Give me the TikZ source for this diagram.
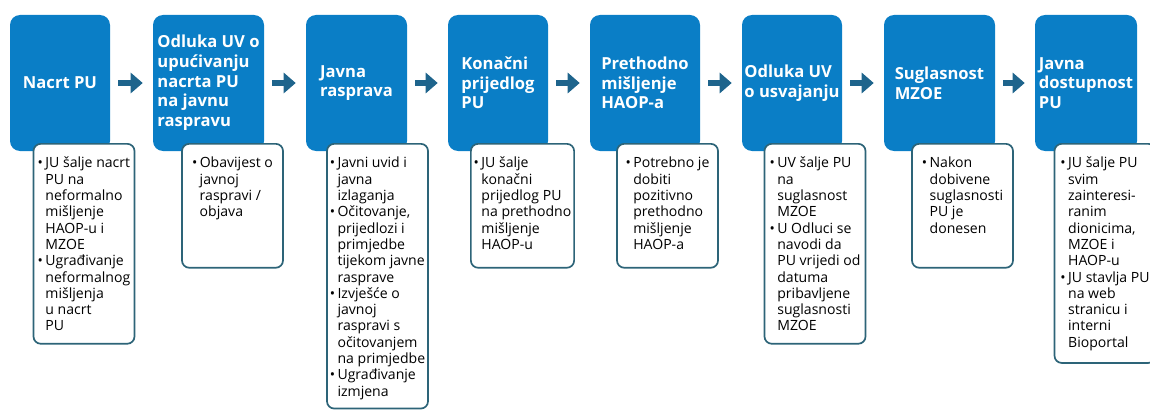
\documentclass[tikz,border=0pt]{standalone}
\usepackage{fontspec}
\setmainfont{Open Sans}
\usepackage{tikz}
\usetikzlibrary{arrows.meta,positioning}
\usepackage{xcolor}
\definecolor{stageblue}{RGB}{10,126,198}
\definecolor{arrowblue}{RGB}{30,100,140}
\definecolor{noteframe}{RGB}{45,100,120}
\tikzstyle{arrow} = [line width=4.5pt,-{Triangle[length=3mm,width=5mm]},color=arrowblue,shorten <=0.2cm,shorten >=0.25cm]
\tikzstyle{stage} = [rectangle, rounded corners=0.25cm, minimum width=2.5cm, minimum height=3.4cm, inner sep=0pt, align=left, fill=stageblue, text=white, font=\fontsize{11.8}{14}\selectfont\bfseries]
\tikzstyle{note} = [rectangle, rounded corners=0.18cm, anchor=north, minimum width=2.525cm, inner xsep=2pt, inner ysep=9pt, text height=8.1pt, draw=noteframe, line width=1.2pt, fill=white, font=\fontsize{10}{11.6}\selectfont]
\newcommand{\blt}{\makebox[5.5pt][l]{\textbullet}}

\begin{document}
\begin{tikzpicture}
\useasboundingbox (0,0) rectangle (28.75,-10.25);
% Stages
\node[stage] (t1) at (1.5,-2.075) {Nacrt PU};
\node[stage, minimum width=2.775cm] (t2) at (5.2125,-2.075) {Odluka UV o\\upućivanju\\nacrta PU\\na javnu\\raspravu};
\node[stage, minimum width=2.525cm] (t3) at (8.9125,-2.075) {Javna\\rasprava};
\node[stage] (t4) at (12.45,-2.075) {Konačni\\prijedlog\\PU};
\node[stage, minimum width=2.75cm] (t5) at (16.125,-2.075) {Prethodno\\mišljenje\\HAOP-a};
\node[stage] (t6) at (19.8,-2.075) {Odluka UV\\o usvajanju};
\node[stage, minimum width=2.775cm] (t7) at (23.4875,-2.075) {Suglasnost\\MZOE};
\node[stage, minimum width=2.55cm] (t8) at (27.15,-2.075) {Javna\\dostupnost\\PU};

% Notes
\node[note, text depth=4.08cm] (n1) at (2.1,-3.575) {
\begin{tabular}[t]{@{}l@{}l@{}}
\blt & JU šalje nacrt\\
& PU na\\
& neformalno\\
& mišljenje\\
& HAOP-u i\\
& MZOE\\
\blt & Ugrađivanje\\
& neformalnog\\
& mišljenja\\
& u nacrt\\
& PU
\end{tabular}
};

\node[note, text depth=2.18cm] (n2) at (5.8125,-3.575) {
\begin{tabular}[t]{@{}l@{}l@{}}
\blt & Obavijest o\\
& javnoj\\
& raspravi /\\
& objava
\end{tabular}
};

\node[note, text depth=5.7cm] (n3) at (9.4375,-3.575) {
\begin{tabular}[t]{@{}l@{}l@{}}
\blt & Javni uvid i\\
& javna\\
& izlaganja\\
\blt & Očitovanje,\\
& prijedlozi i\\
& primjedbe\\
& tijekom javne\\
& rasprave\\
\blt & Izvješće o\\
& javnoj\\
& raspravi s\\
& očitovanjem\\
& na primjedbe\\
\blt & Ugrađivanje\\
& izmjena
\end{tabular}
};

\node[note, text depth=2.18cm] (n4) at (13.0625,-3.575) {
\begin{tabular}[t]{@{}l@{}l@{}}
\blt & JU šalje\\
& konačni\\
& prijedlog PU\\
& na prethodno\\
& mišljenje\\
& HAOP-u
\end{tabular}
};

\node[note, text depth=2.18cm] (n5) at (16.6875,-3.575) {
\begin{tabular}[t]{@{}l@{}l@{}}
\blt & Potrebno je\\
& dobiti\\
& pozitivno\\
& prethodno\\
& mišljenje\\
& HAOP-a
\end{tabular}
};

\node[note, text depth=4.08cm] (n6) at (20.375,-3.575) {
\begin{tabular}[t]{@{}l@{}l@{}}
\blt & UV šalje PU\\
& na\\
& suglasnost\\
& MZOE\\
\blt & U Odluci se\\
& navodi da\\
& PU vrijedi od\\
& datuma\\
& pribavljene\\
& suglasnosti\\
& MZOE
\end{tabular}
};

\node[note, text depth=2.18cm] (n7) at (24.0625,-3.575) {
\begin{tabular}[t]{@{}l@{}l@{}}
\blt & Nakon\\
& dobivene\\
& suglasnosti\\
& PU je\\
& donesen
\end{tabular}
};

\node[note, text depth=4.56cm] (n8) at (27.625,-3.575) {
\begin{tabular}[t]{@{}l@{}l@{}}
\blt & JU šalje PU\\
& svim\\
& zainteresi-\\
& ranim\\
& dionicima,\\
& MZOE i\\
& HAOP-u\\
\blt & JU stavlja PU\\
& na web\\
& stranicu i\\
& interni\\
& Bioportal
\end{tabular}
};

% Arrows
\draw[arrow] (t1.east) -- (t2.west);
\draw[arrow] (t2.east) -- (t3.west);
\draw[arrow] (t3.east) -- (t4.west);
\draw[arrow] (t4.east) -- (t5.west);
\draw[arrow] (t5.east) -- (t6.west);
\draw[arrow] (t6.east) -- (t7.west);
\draw[arrow] (t7.east) -- (t8.west);
\end{tikzpicture}
\end{document}
